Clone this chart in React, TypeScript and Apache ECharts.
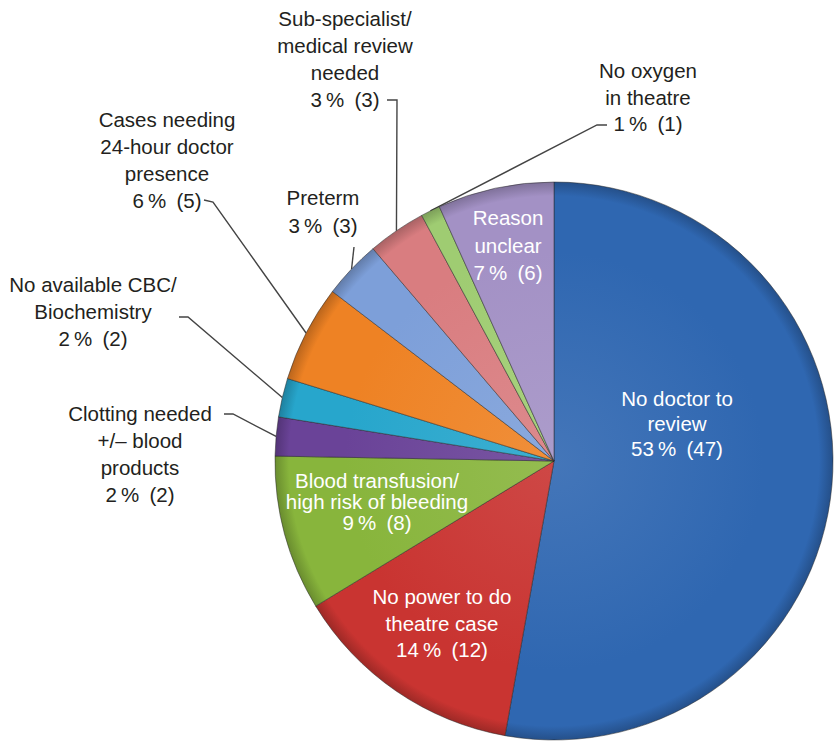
import React, { useEffect, useRef } from "react";
import * as echarts from "echarts";

// ---- Data ----
const categories = [
  "No doctor to\nreview",
  "No power to do\ntheatre case",
  "Blood transfusion/\nhigh risk of bleeding",
  "Clotting needed\n+/\u2013 blood\nproducts",
  "No available CBC/\nBiochemistry",
  "Cases needing\n24-hour doctor\npresence",
  "Preterm",
  "Sub-specialist/\nmedical review\nneeded",
  "No oxygen\nin theatre",
  "Reason\nunclear",
];
const counts = [47, 12, 8, 2, 2, 5, 3, 3, 1, 6];
const percents = [53, 14, 9, 2, 2, 6, 3, 3, 1, 7];

// ---- Styles ----
const sliceColors = [
  "#2F67B1",
  "#C93431",
  "#88B53C",
  "#6A4398",
  "#27A6CC",
  "#EE8224",
  "#7D9FD9",
  "#D97D80",
  "#9FCC72",
  "#A391C5",
];

// ---- Label layout (positions of label blocks, leader line bends) ----
type Spot = { x: number; y: number; lh: number; bend?: number[]; end?: number[] };
const labelSpots: Spot[] = [
  { x: 677, y: 423, lh: 25 },
  { x: 442, y: 623, lh: 26.5 },
  { x: 377, y: 501, lh: 21 },
  { x: 140, y: 454, lh: 27, bend: [233, 414], end: [224, 414] },
  { x: 93, y: 311, lh: 27, bend: [188, 317], end: [179, 317] },
  { x: 167, y: 160, lh: 26.7, bend: [213, 202], end: [204, 200] },
  { x: 323, y: 211, lh: 28, bend: [354, 247], end: [354, 247] },
  { x: 345, y: 59, lh: 27, bend: [397, 100], end: [387, 100] },
  { x: 648, y: 97, lh: 26.5, bend: [597, 125], end: [607, 125] },
  { x: 508, y: 245, lh: 27.5 },
];

function shade(hex: string, f: number): string {
  const n = parseInt(hex.slice(1), 16);
  let r = (n >> 16) & 255, g = (n >> 8) & 255, b = n & 255;
  if (f >= 0) {
    r = r + (255 - r) * f; g = g + (255 - g) * f; b = b + (255 - b) * f;
  } else {
    r = r * (1 + f); g = g * (1 + f); b = b * (1 + f);
  }
  return `rgb(${Math.round(r)},${Math.round(g)},${Math.round(b)})`;
}

export default function App() {
  const ref = useRef<HTMLDivElement>(null);
  useEffect(() => {
    const chart = echarts.init(ref.current!, null, { renderer: "svg" });
    const cx = 554, cy = 461, R = 279;
    const data = categories.map((name, i) => {
      const spot = labelSpots[i];
      const inside = !spot.bend;
      const c = sliceColors[i];
      return {
        name,
        value: counts[i],
        itemStyle: {
          color: new echarts.graphic.RadialGradient(
            cx, cy, R,
            [
              { offset: 0, color: shade(c, 0.1) },
              { offset: 0.75, color: c },
              { offset: 0.95, color: c },
              { offset: 1, color: shade(c, -0.22) },
            ],
            true
          ),
        },
        label: {
          position: inside ? "inside" : "outside",
          color: inside ? "#ffffff" : "#231f20",
          lineHeight: spot.lh,
        },
        labelLine: { show: !inside },
      };
    });

    chart.setOption({
      animation: false,
      backgroundColor: "#ffffff",
      series: [
        {
          type: "pie",
          center: [cx, cy],
          radius: R,
          startAngle: 90,
          clockwise: true,
          avoidLabelOverlap: false,
          emphasis: { disabled: true },
          itemStyle: { borderColor: "rgba(40,40,40,0.5)", borderWidth: 1 },
          label: {
            fontFamily: "'Liberation Sans', Arial, sans-serif",
            fontSize: 20.5,
            formatter: (p: any) =>
              `${p.name}\n${percents[p.dataIndex]}\u2009%\u2002(${p.value})`,
          },
          labelLine: {
            length: 10,
            length2: 10,
            lineStyle: { color: "#444", width: 1.4 },
          },
          labelLayout: (params: any) => {
            const s = labelSpots[params.dataIndex];
            const out: any = { x: s.x, y: s.y, align: "center", verticalAlign: "middle" };
            if (s.bend && params.labelLinePoints) {
              const p0 = params.labelLinePoints[0];
              out.labelLinePoints = [p0, s.bend, s.end];
            }
            return out;
          },
          data,
        },
      ],
    });
    return () => chart.dispose();
  }, []);
  return (
    <div
      ref={ref}
      style={{ position: "fixed", left: 0, top: 0, width: 837, height: 744 }}
    />
  );
}
